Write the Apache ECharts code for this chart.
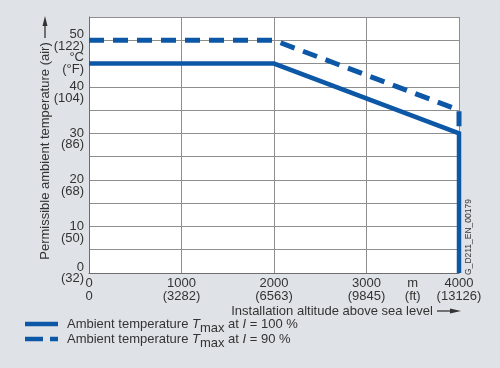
<!DOCTYPE html>
<html><head><meta charset="utf-8">
<script src="https://cdn.jsdelivr.net/npm/echarts@6/dist/echarts.min.js"></script>
<style>html,body{margin:0;padding:0;background:#dfe3e7;}#c{width:500px;height:368px;}</style>
</head><body><div id="c"></div>
<script>
// Data
const altitude100 = [0, 2000, 4000, 4000];
const tmax100 = [45, 45, 30, 0];
const altitude90 = [0, 2000, 4000, 4000];
const tmax90 = [50, 50, 35, 30];
const yTickValues = [0, 10, 20, 30, 40, 45, 50];
const yTickLabels = ['0\n(32)', '\n10\n(50)', '\n20\n(68)', '\n30\n(86)', '\n40\n(104)', '°C\n(°F)', '50\n(122)'];
const xTickValues = [0, 1000, 2000, 3000, 3500, 4000];
const xTickLabels = ['0\n0', '1000\n(3282)', '2000\n(6563)', '3000\n(9845)', 'm\n(ft)', '4000\n(13126)'];
const seriesNames = ['Ambient temperature Tmax at I = 100 %', 'Ambient temperature Tmax at I = 90 %'];

const blue = '#0d58a6';
const txt = '#333';
const font = 'Liberation Sans, Arial, sans-serif';

function lookup(vals, labels, v) {
  const i = vals.indexOf(v);
  return i < 0 ? '' : labels[i];
}

const chart = echarts.init(document.getElementById('c'), null, {renderer: 'canvas'});
chart.setOption({
  backgroundColor: '#dfe3e7',
  textStyle: {fontFamily: font, color: txt},
  animation: false,
  grid: {left: 89, right: 41, top: 17, bottom: 95, show: true, backgroundColor: '#ffffff', borderWidth: 0},
  xAxis: [{
    type: 'value', min: 0, max: 4000, interval: 500,
    axisLine: {show: true, lineStyle: {color: '#6e6e6e', width: 1}},
    axisTick: {show: false}, splitLine: {show: false},
    axisLabel: {show: true, showMaxLabel: true, showMinLabel: true, margin: 4, fontSize: 13, lineHeight: 13, color: txt, fontFamily: font,
      formatter: v => lookup(xTickValues, xTickLabels, v)}
  }, {
    type: 'value', min: 0, max: 4000, interval: 1000, position: 'bottom',
    axisLine: {show: false}, axisTick: {show: false}, axisLabel: {show: false},
    splitLine: {show: true, lineStyle: {color: '#8e8e8e', width: 1}}
  }],
  yAxis: {
    type: 'value', min: 0, max: 55, interval: 5,
    axisLine: {show: true, lineStyle: {color: '#6e6e6e', width: 1}},
    axisTick: {show: false},
    splitLine: {show: true, lineStyle: {color: '#8e8e8e', width: 1}},
    axisLabel: {margin: 5, fontSize: 13, lineHeight: 11.5, color: txt, fontFamily: font, align: 'right',
      formatter: v => lookup(yTickValues, yTickLabels, v)}
  },
  series: [{
    name: seriesNames[1], type: 'line', xAxisIndex: 0, clip: false, symbol: 'none',
    data: altitude90.map((a, i) => [a, tmax90[i]]),
    lineStyle: {color: blue, width: 5, type: [15, 9], cap: 'butt'}, z: 2
  }, {
    name: seriesNames[0], type: 'line', xAxisIndex: 0, clip: false, symbol: 'none',
    data: altitude100.map((a, i) => [a, tmax100[i]]),
    lineStyle: {color: blue, width: 4.5, type: 'solid', cap: 'butt', join: 'miter'}, z: 3
  }],
  graphic: [
    // y-axis title
    {type: 'text', x: 45, y: 151, rotation: Math.PI / 2, style: {text: 'Permissible ambient temperature (air)', font: '13px ' + font, fill: txt, align: 'center', verticalAlign: 'middle'}},
    {type: 'line', shape: {x1: 45, y1: 38, x2: 45, y2: 24}, style: {stroke: txt, lineWidth: 1.3}},
    {type: 'polygon', shape: {points: [[45, 16], [42.5, 26], [47.5, 26]]}, style: {fill: txt}},
    // x-axis title
    {type: 'text', x: 332, y: 311, style: {text: 'Installation altitude above sea level', font: '13px ' + font, fill: txt, align: 'center', verticalAlign: 'middle'}},
    {type: 'line', shape: {x1: 437, y1: 311, x2: 452, y2: 311}, style: {stroke: txt, lineWidth: 1.3}},
    {type: 'polygon', shape: {points: [[461, 311], [450, 308.5], [450, 313.5]]}, style: {fill: txt}},
    // drawing id
    {type: 'text', x: 469, y: 237, rotation: Math.PI / 2, style: {text: 'G_D211_EN_00179', font: '8.5px ' + font, fill: txt, align: 'center', verticalAlign: 'middle'}},
    // legend
    {type: 'line', shape: {x1: 25, y1: 324, x2: 58, y2: 324}, style: {stroke: blue, lineWidth: 4.5}},
    {type: 'line', shape: {x1: 25, y1: 339, x2: 58, y2: 339}, style: {stroke: blue, lineWidth: 4.5, lineDash: [18, 7]}},
    {type: 'text', x: 67, y: 324, style: {
      text: '{n|Ambient temperature }{i|T}{s|max}{n| at }{i|I}{n| = 100 %}',
      verticalAlign: 'middle', fill: txt,
      rich: {n: {font: '13px ' + font, fill: txt}, i: {font: 'italic 13px ' + font, fill: txt}, s: {font: '13px ' + font, fill: txt, padding: [9, 0, 0, 0]}}
    }},
    {type: 'text', x: 67, y: 339, style: {
      text: '{n|Ambient temperature }{i|T}{s|max}{n| at }{i|I}{n| = 90 %}',
      verticalAlign: 'middle', fill: txt,
      rich: {n: {font: '13px ' + font, fill: txt}, i: {font: 'italic 13px ' + font, fill: txt}, s: {font: '13px ' + font, fill: txt, padding: [9, 0, 0, 0]}}
    }}
  ]
});
</script>
</body></html>
